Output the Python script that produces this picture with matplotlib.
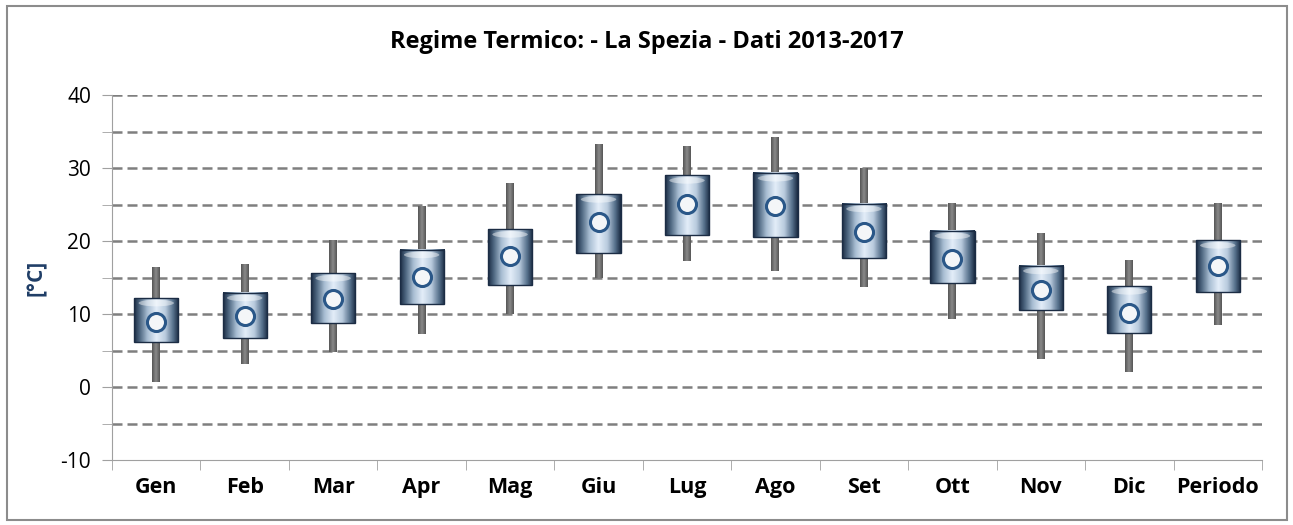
import numpy as np
import matplotlib.pyplot as plt
from matplotlib.patches import Rectangle, Ellipse
from matplotlib.colors import LinearSegmentedColormap

months = ["Gen", "Feb", "Mar", "Apr", "Mag", "Giu", "Lug", "Ago", "Set", "Ott", "Nov", "Dic", "Periodo"]
t_max_abs = [16.4, 16.8, 20.1, 24.7, 27.8, 33.2, 32.9, 34.2, 29.9, 25.1, 21.1, 17.3, 25.1]
t_min_abs = [0.7, 3.2, 4.8, 7.3, 10.0, 14.9, 17.3, 15.9, 13.7, 9.3, 3.8, 2.1, 8.5]
t_max_med = [12.2, 12.9, 15.6, 18.8, 21.6, 26.4, 29.0, 29.3, 25.1, 21.4, 16.6, 13.8, 20.1]
t_min_med = [6.2, 6.7, 8.8, 11.4, 14.0, 18.4, 20.8, 20.5, 17.7, 14.2, 10.5, 7.4, 13.0]
t_med = [8.9, 9.7, 12.1, 15.1, 17.9, 22.6, 25.1, 24.8, 21.2, 17.5, 13.3, 10.1, 16.6]

plt.rcParams['font.family'] = ['Open Sans', 'DejaVu Sans']
plt.rcParams['axes.unicode_minus'] = False

fig = plt.figure(figsize=(12.93, 5.25), dpi=100)
ax = fig.add_axes([112 / 1293, 1 - 460 / 525, 1150 / 1293, 365 / 525])

# outer frame
fig.patches.append(Rectangle((7 / 1293, 5 / 525), 1280 / 1293, 514 / 525, transform=fig.transFigure,
                             fill=False, edgecolor="#8c8c8c", linewidth=1.5))

x = np.arange(len(months))
box_w = 0.5
whisk_w = 0.09

# gradients
box_cmap = LinearSegmentedColormap.from_list("box", [
    (0.0, "#1b2c44"), (0.12, "#4d6680"), (0.3, "#a9bed3"), (0.5, "#e4eef9"),
    (0.7, "#b9cbde"), (0.88, "#56708b"), (1.0, "#1b2c44")])
grad = np.linspace(0, 1, 64)[None, :].repeat(32, axis=0)
whisk_cmap = LinearSegmentedColormap.from_list("wh", ["#555555", "#8a8a8a", "#555555"])

ax.set_xlim(-0.5, len(months) - 0.5)
ax.set_ylim(-10, 40)

for yy in np.arange(-5, 41, 5):
    ax.axhline(yy, color="#7f7f7f", lw=1.8, ls=(0, (4, 2)), zorder=1)

for i in range(len(months)):
    # whiskers
    ax.imshow(grad, cmap=whisk_cmap, extent=(x[i] - whisk_w / 2, x[i] + whisk_w / 2, t_max_med[i], t_max_abs[i]),
              aspect="auto", zorder=2)
    ax.imshow(grad, cmap=whisk_cmap, extent=(x[i] - whisk_w / 2, x[i] + whisk_w / 2, t_min_abs[i], t_min_med[i]),
              aspect="auto", zorder=2)
    # box
    ax.imshow(grad, cmap=box_cmap, extent=(x[i] - box_w / 2, x[i] + box_w / 2, t_min_med[i], t_max_med[i]),
              aspect="auto", zorder=3)
    ax.add_patch(Rectangle((x[i] - box_w / 2, t_min_med[i]), box_w, t_max_med[i] - t_min_med[i],
                           fill=False, edgecolor="#1b2c44", lw=1.0, zorder=4))
    # top highlight
    ax.add_patch(Ellipse((x[i], t_max_med[i] - 0.7), box_w * 0.8, 0.9,
                         facecolor="white", edgecolor="none", alpha=0.45, zorder=4))

ax.plot(x, t_med, ls="none", marker="o", ms=13, mfc="#f4f6f8", mec="#2a5788", mew=2.2, zorder=5)

fig.text(0.5, 1 - 42 / 525, "Regime Termico: - La Spezia - Dati 2013-2017", fontsize=17, fontweight="bold",
         ha="center", va="center")
ax.set_ylabel("[°C]", fontsize=15, fontweight="bold", color="#1f3d66")
ax.yaxis.set_label_coords(-0.057, 0.5)

ax.set_yticks(np.arange(-10, 41, 10))
ax.set_yticks(np.arange(-5, 41, 5), minor=True)
ax.tick_params(axis="y", which="both", length=7, color="#a0a0a0", labelsize=15, pad=8)
ax.set_xticks(x)
ax.set_xticklabels(months, fontweight="bold")
ax.set_xticks(np.arange(-0.5, len(months), 1), minor=True)
ax.tick_params(axis="x", which="major", length=0, labelsize=15.5, pad=12)
ax.tick_params(axis="x", which="minor", length=7, color="#a0a0a0")

for s in ["top", "right"]:
    ax.spines[s].set_visible(False)
ax.spines["left"].set_color("#a0a0a0")
ax.spines["bottom"].set_color("#a0a0a0")

fig.savefig("out.png", dpi=100)
